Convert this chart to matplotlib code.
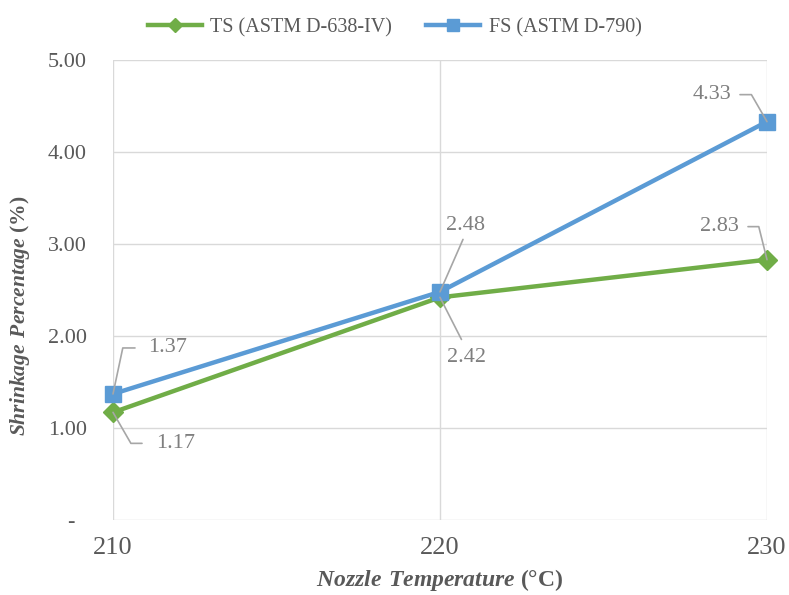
import matplotlib
matplotlib.use("Agg")
import matplotlib.pyplot as plt

plt.rcParams['font.family'] = ['Liberation Serif', 'DejaVu Serif']
plt.rcParams['mathtext.fontset'] = 'custom'
plt.rcParams['mathtext.rm'] = 'Liberation Serif'
plt.rcParams['mathtext.bf'] = 'Liberation Serif:bold'
plt.rcParams['mathtext.bfit'] = 'Liberation Serif:bold:italic'

temps = [210, 220, 230]
ts_vals = [1.17, 2.42, 2.83]
fs_vals = [1.37, 2.48, 4.33]
series_names = ['TS (ASTM D-638-IV)', 'FS (ASTM D-790)']
y_ticks = [0, 1, 2, 3, 4, 5]
y_ticklabels = ['-  ', '1.00', '2.00', '3.00', '4.00', '5.00']

green = '#70AD47'
blue = '#5B9BD5'
grid_c = '#D9D9D9'
txt_c = '#595959'
lbl_c = '#7F7F7F'
lead_c = '#A6A6A6'

fig = plt.figure(figsize=(7.89, 5.95), dpi=100)
ax = fig.add_axes([113/789, 75/595, 654/789, 460/595])

ax.plot(temps, ts_vals, color=green, lw=3.2, marker='D', ms=10,
        label=series_names[0], clip_on=False, zorder=3)
ax.plot(temps, fs_vals, color=blue, lw=3.2, marker='s', ms=11.5,
        label=series_names[1], clip_on=False, zorder=4)

ax.set_xlim(210, 230)
ax.set_ylim(0, 5)
ax.set_xticks(temps)
ax.set_xticklabels([str(t) for t in temps])
ax.set_yticks(y_ticks)
ax.set_yticklabels(y_ticklabels)
ax.grid(True, color=grid_c, lw=1.0)
ax.set_axisbelow(True)
for s in ax.spines.values():
    s.set_visible(False)
ax.tick_params(axis='both', length=0, colors=txt_c)
ax.tick_params(axis='y', labelsize=16, pad=19)
ax.tick_params(axis='x', labelsize=19, pad=12)

ax.set_xlabel(r'$\mathbfit{Nozzle\ Temperature}$ $\mathbf{(°C)}$',
              fontsize=17, color=txt_c, labelpad=6)
ax.set_ylabel(r'$\mathbfit{Shrinkage\ Percentage}$ $\mathbf{(\%)}$',
              fontsize=15.5, color=txt_c)
ax.yaxis.set_label_coords(-0.124, 0.443)

# data labels: (x, y, text offset px, relpos, leader angle, gap px)
labels = [
    (temps[0], fs_vals[0], (35, 46), (0, 0.5), 78, 13),
    (temps[0], ts_vals[0], (43, -31), (0, 0.5), -60, 14),
    (temps[1], fs_vals[1], (25, 57), (0.5, 0), None, 5),
    (temps[1], ts_vals[1], (26, -51), (0.5, 1), None, 10),
    (temps[2], fs_vals[2], (-36, 27), (1, 0.5), 120, 9),
    (temps[2], ts_vals[2], (-28, 33), (1, 0.5), 104, 9),
]
for x, y, off, rp, ang, gap in labels:
    ha = {0: 'left', 0.5: 'center', 1: 'right'}[rp[0]]
    va = {0: 'bottom', 0.5: 'center', 1: 'top'}[rp[1]]
    cs = 'arc3' if ang is None else 'angle,angleA=0,angleB=%d,rad=0' % ang
    ax.annotate('%.2f' % y, xy=(x, y), xytext=off, textcoords='offset pixels',
                ha=ha, va=va, fontsize=16, color=lbl_c, zorder=5,
                arrowprops=dict(arrowstyle='-', color=lead_c, lw=1.2,
                                patchA=None, shrinkA=gap * 0.72, shrinkB=0,
                                relpos=rp, connectionstyle=cs))

leg = fig.legend(loc='upper center', bbox_to_anchor=(0.5, 1.0), ncol=2,
                 frameon=False, fontsize=14.5, handlelength=2.7, columnspacing=1.7,
                 handletextpad=0.4, markerscale=0.75)
for t in leg.get_texts():
    t.set_color(txt_c)

fig.savefig('out.png', dpi=100)
